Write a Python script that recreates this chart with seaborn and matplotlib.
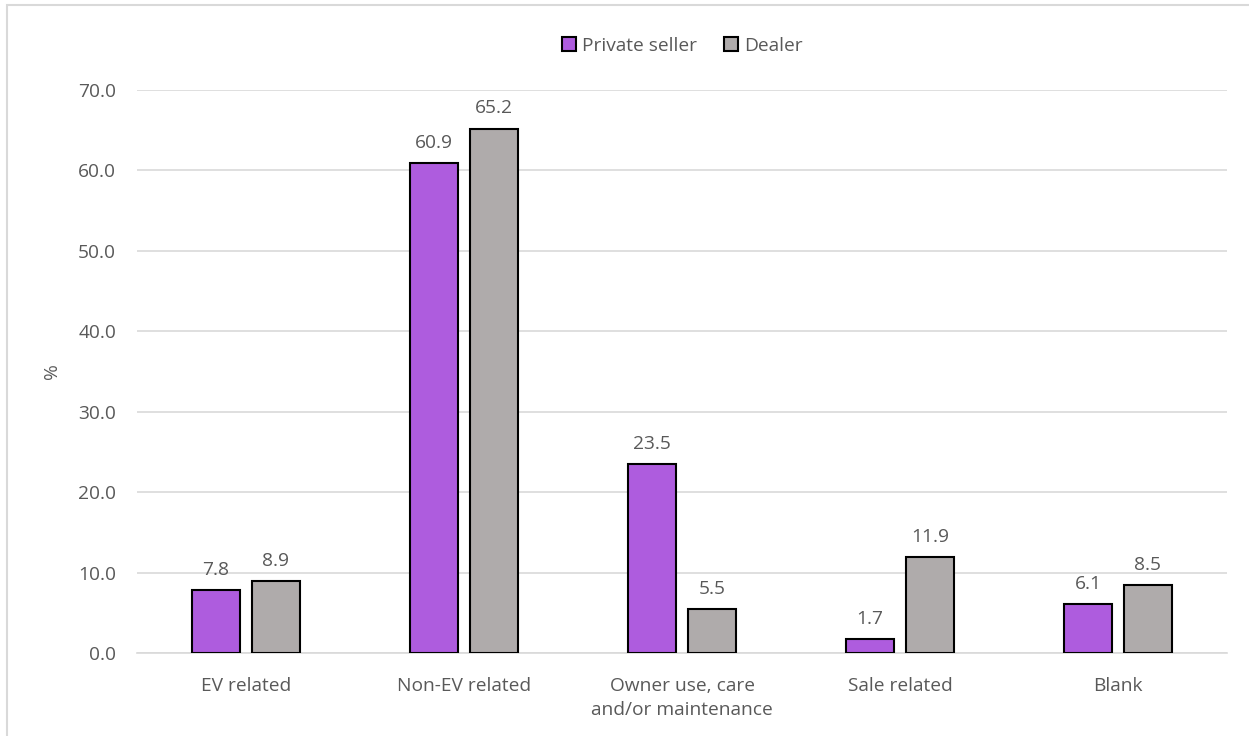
import matplotlib
matplotlib.use("Agg")
import matplotlib.pyplot as plt
import seaborn as sns
import pandas as pd
from matplotlib.patches import Rectangle

categories = ["EV related", "Non-EV related", "Owner use, care\nand/or maintenance",
              "Sale related", "Blank"]
private_seller = [7.8, 60.9, 23.5, 1.7, 6.1]
dealer = [8.9, 65.2, 5.5, 11.9, 8.5]
series_names = ["Private seller", "Dealer"]
y_ticks = [0, 10, 20, 30, 40, 50, 60, 70]

df = pd.DataFrame({
    "category": categories * 2,
    "value": private_seller + dealer,
    "series": [series_names[0]] * len(categories) + [series_names[1]] * len(categories),
})

sns.set_theme(style="white")
plt.rcParams["font.family"] = ["Open Sans", "DejaVu Sans"]
text_color = "#595959"
grid_color = "#D9D9D9"
fs = 13.8

fig = plt.figure(figsize=(12.49, 7.36), dpi=100)
ax = fig.add_axes([137 / 1249, 1 - 653 / 736, 1090 / 1249, (653 - 90) / 736])

sns.barplot(data=df, x="category", y="value", hue="series",
            palette=["#AE5CDE", "#AFABAB"], saturation=1, width=0.55, gap=0.2,
            edgecolor="black", linewidth=1.5, ax=ax, zorder=3)

for container in ax.containers:
    ax.bar_label(container, fmt="%.1f", padding=8, fontsize=fs, color=text_color)

ax.set_ylim(0, 70)
ax.set_yticks(y_ticks)
ax.set_yticklabels([f"{v:.1f}" for v in y_ticks])
ax.yaxis.grid(True, color=grid_color, linewidth=1.2, zorder=0)
ax.set_axisbelow(True)
for side in ["top", "right", "left"]:
    ax.spines[side].set_visible(False)
ax.spines["bottom"].set_color(grid_color)
ax.spines["bottom"].set_linewidth(1.2)
ax.tick_params(axis="both", length=0, labelsize=fs, labelcolor=text_color)
ax.tick_params(axis="x", pad=17)
ax.tick_params(axis="y", pad=15)
for lbl in ax.get_xticklabels():
    lbl.set_linespacing(1.45)
ax.set_xlabel("")
ax.set_ylabel("%", fontsize=fs, color=text_color, labelpad=12)

leg = ax.legend(loc="upper center", bbox_to_anchor=(0.5, 1.125), ncol=2, frameon=False,
                fontsize=fs, handlelength=0.75, handleheight=0.75, handletextpad=0.3,
                columnspacing=1.4)
for t in leg.get_texts():
    t.set_color(text_color)

fig.patches.append(Rectangle((7 / 1249, -0.1), 1.2, 1.1 - 5 / 736, transform=fig.transFigure,
                             fill=False, edgecolor=grid_color, linewidth=1.5))

fig.savefig("out.png", dpi=100)
